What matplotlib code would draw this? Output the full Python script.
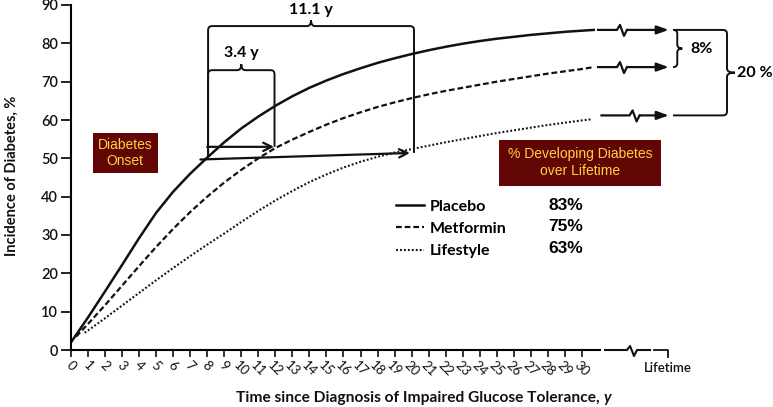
import numpy as np
import matplotlib.pyplot as plt
from matplotlib.path import Path
from matplotlib.patches import PathPatch, Rectangle

plt.rcParams['font.family'] = ['Lato', 'DejaVu Sans']
NARROW = ['Liberation Sans Narrow', 'Liberation Sans']

# data (years since IGT diagnosis, cumulative incidence %)
placebo_x = [0, 1, 2, 3, 4, 5, 6, 7, 8, 9, 10, 11, 12, 13, 14, 15, 16, 17, 18, 19, 20,
             21, 22, 23, 24, 25, 26, 27, 28, 29, 30, 30.7]
placebo_y = [2, 8.5, 15.3, 22.2, 29.2, 35.8, 41.3, 46.0, 50.2, 54.2, 57.8, 60.9, 63.7,
             66.2, 68.4, 70.3, 72.0, 73.5, 74.9, 76.1, 77.2, 78.2, 79.1, 79.9, 80.6,
             81.2, 81.7, 82.2, 82.6, 83.0, 83.3, 83.5]
metformin_x = [0.3, 1, 2, 3, 4, 5, 6, 7, 8, 9, 10, 11, 12, 13, 14, 15, 16, 17, 18, 19, 20,
               21, 22, 23, 24, 25, 26, 27, 28, 29, 30, 30.7]
metformin_y = [3.5, 6.8, 11.7, 16.8, 21.9, 26.9, 31.6, 36.0, 40.0, 43.7, 47.0, 50.0,
               52.7, 54.9, 56.9, 58.8, 60.5, 62.0, 63.4, 64.6, 65.7, 66.7, 67.6, 68.4,
               69.2, 70.0, 70.7, 71.4, 72.1, 72.7, 73.3, 73.8]
lifestyle_x = [0.8, 1, 2, 3, 4, 5, 6, 7, 8, 9, 10, 11, 12, 13, 14, 15, 16, 17, 18, 19, 20,
               21, 22, 23, 24, 25, 26, 27, 28, 29, 30, 30.6]
lifestyle_y = [4.5, 5.1, 8.3, 11.6, 14.9, 18.2, 21.4, 24.5, 27.5, 30.4, 33.4, 36.3,
               39.0, 41.5, 43.8, 45.8, 47.6, 49.1, 50.4, 51.5, 52.4, 53.3, 54.2, 55.0,
               55.8, 56.6, 57.3, 58.0, 58.7, 59.3, 59.9, 60.2]
groups = ['Placebo', 'Metformin', 'Lifestyle']
lifetime_pct = ['83%', '75%', '63%']
xticks = list(range(0, 31))
yticks = list(range(0, 91, 10))

W, H = 773, 407
fig = plt.figure(figsize=(W / 100, H / 100), dpi=100)
ax = fig.add_axes([71 / W, 57 / H, (W - 71) / W, 345 / H])
PXX = 17.03   # pixels per year
PXY = 345 / 90  # pixels per %
ax.set_xlim(0, (W - 71) / PXX)
ax.set_ylim(0, 90)

def dx(p):
    return p / PXX

def dy(p):
    return p / PXY

ink = '#111111'
l1, = ax.plot(placebo_x, placebo_y, color=ink, lw=1.8, solid_joinstyle='round')
l2, = ax.plot(metformin_x, metformin_y, color=ink, lw=1.6, dashes=(2.6, 1.3))
l3, = ax.plot(lifestyle_x, lifestyle_y, color=ink, lw=1.5, dashes=(0.9, 1.0))

# axes
for s in ['top', 'right']:
    ax.spines[s].set_visible(False)
ax.spines['left'].set_linewidth(1.5)
ax.spines['bottom'].set_linewidth(1.5)
ax.spines['bottom'].set_bounds(0, 31.05)
ax.set_yticks(yticks)
ax.set_yticklabels([str(v) for v in yticks], fontsize=10.5, fontweight='semibold')
ax.set_xticks(xticks)
ax.set_xticklabels([str(v) for v in xticks], fontsize=9.5, rotation=-45,
                   ha='center', va='top')
ax.tick_params(axis='y', length=7.2, width=1.3, pad=2, colors=ink)
ax.tick_params(axis='x', length=4.8, width=1.2, pad=1.5, colors=ink)

# axis break and lifetime tick
def zigzag(x0, y, up=5, down=6):
    return ([x0, x0 + dx(3), x0 + dx(7), x0 + dx(10)],
            [y, y + dy(up), y - dy(down), y])

zx, zy = zigzag(32.65, 0, 4, 6)
ax.plot([31.36] + zx + [34.0], [0] + zy + [0], color=ink, lw=1.5, clip_on=False)
ax.plot([34.23, 35.06, 35.06], [0, 0, -dy(6.5)], color=ink, lw=1.3, clip_on=False)
ax.text(35.06, -dy(17.5), 'Lifetime', ha='center', va='center', fontsize=9.5,
        fontweight='semibold', color=ink)

# axis titles
fig.text(12 / W, 1 - 176 / H, 'Incidence of Diabetes, %', rotation=90, ha='center',
         va='center', fontsize=10.5, fontweight='bold', color=ink)
xl = fig.text(420 / W, 1 - 398 / H, 'Time since Diagnosis of Impaired Glucose Tolerance, ',
              ha='center', va='center', fontsize=11.2, fontweight='bold', color=ink)
ax.annotate('y', xy=(1, 0), xycoords=xl, va='bottom', ha='left', fontsize=11.2,
            fontweight='bold', style='italic', color=ink)

# brackets
M, L, C = Path.MOVETO, Path.LINETO, Path.CURVE3

def bracket_h(x0, x1, yt, yb0, yb1, tip):
    rx, ry = dx(4), dy(4)
    xm = (x0 + x1) / 2
    v = [(x0, yb0), (x0, yt - ry), (x0, yt), (x0 + rx, yt), (xm - rx, yt), (xm, yt),
         (xm, yt + tip), (xm, yt), (xm + rx, yt), (x1 - rx, yt), (x1, yt), (x1, yt - ry),
         (x1, yb1)]
    c = [M, L, C, C, L, C, C, C, C, L, C, C, L]
    ax.add_patch(PathPatch(Path(v, c), fill=False, lw=1.4, ec=ink, clip_on=False))

def bracket_v(x0, xv, y0, y1, tip):
    rx, ry = dx(4), dy(4)
    ym = (y0 + y1) / 2
    v = [(x0, y0), (xv - rx, y0), (xv, y0), (xv, y0 - ry), (xv, ym + ry), (xv, ym),
         (xv + tip, ym), (xv, ym), (xv, ym - ry), (xv, y1 + ry), (xv, y1), (xv - rx, y1),
         (x0, y1)]
    c = [M, L, C, C, L, C, C, C, C, L, C, C, L]
    ax.add_patch(PathPatch(Path(v, c), fill=False, lw=1.4, ec=ink, clip_on=False))

bracket_h(8.05, 20.14, 84.5, 50.5, 51.4, dy(6))
bracket_h(8.05, 11.95, 73.0, 50.5, 53.0, dy(6))
ax.text(14.1, 88.8, '11.1 y', ha='center', va='center', fontsize=11.5, fontweight='bold')
ax.text(10.0, 77.5, '3.4 y', ha='center', va='center', fontsize=11.5, fontweight='bold')

ax.annotate('', xy=(11.92, 53.0), xytext=(8.0, 53.0),
            arrowprops=dict(arrowstyle='->,head_length=0.6,head_width=0.3', lw=1.6,
                            color=ink, shrinkA=0, shrinkB=0))
ax.annotate('', xy=(19.9, 51.4), xytext=(7.6, 49.7),
            arrowprops=dict(arrowstyle='->,head_length=0.6,head_width=0.3', lw=1.6,
                            color=ink, shrinkA=0, shrinkB=0))

# lifetime arrows at the right
ends = [placebo_y[-1], metformin_y[-1], lifestyle_y[-1] + 1.0]
for i, ye in enumerate(ends):
    xs = 30.95 if i < 2 else 31.15
    xz = 32.06 if i < 2 else 32.8
    zx, zy = zigzag(xz, ye)
    ax.plot([xs] + zx, [ye] + zy, color=ink, lw=1.6, clip_on=False)
    ax.annotate('', xy=(35.1, ye), xytext=(zx[-1], ye),
                arrowprops=dict(arrowstyle='-|>,head_length=0.7,head_width=0.25', lw=1.6,
                                color=ink, shrinkA=0, shrinkB=0))
bracket_v(35.35, 35.6, ends[0], ends[1], dx(5))
bracket_v(35.35, 38.52, ends[0], ends[2], dx(8))
ax.text(36.35, (ends[0] + ends[1]) / 2, '8%', ha='left', va='center', fontsize=11.5,
        fontweight='bold')
ax.text(39.1, (ends[0] + ends[2]) / 2, '20 %', ha='left', va='center', fontsize=11.5,
        fontweight='bold')

# boxes
box_c = '#620505'
txt_c = '#ffd23c'
ax.add_patch(Rectangle((1.27, 46.1), 3.82, 10.6, fc=box_c, ec='none'))
ax.text(3.18, 51.4, 'Diabetes\nOnset', ha='center', va='center', fontsize=10,
        color=txt_c, family=NARROW, linespacing=1.25)
ax.add_patch(Rectangle((25.13, 42.9), 9.5, 11.9, fc=box_c, ec='none'))
ax.text(29.88, 48.85, '% Developing Diabetes\nover Lifetime', ha='center', va='center',
        fontsize=10, color=txt_c, family=NARROW, linespacing=1.25)

# legend + lifetime percentages
ax.legend([l1, l2, l3], groups, loc='upper left', bbox_to_anchor=(19.1, 39.2),
          bbox_transform=ax.transData, frameon=False, borderpad=0, borderaxespad=0,
          handlelength=1.75, handletextpad=0.35, labelspacing=0.5,
          prop=dict(family='Lato', weight='bold', size=11.5))
for i, p in enumerate(lifetime_pct):
    ax.text(29.05, 37.8 - 5.6 * i, p, ha='center', va='center', fontsize=12.5,
            fontweight='bold', family=NARROW)

fig.savefig('out.png', dpi=100)
